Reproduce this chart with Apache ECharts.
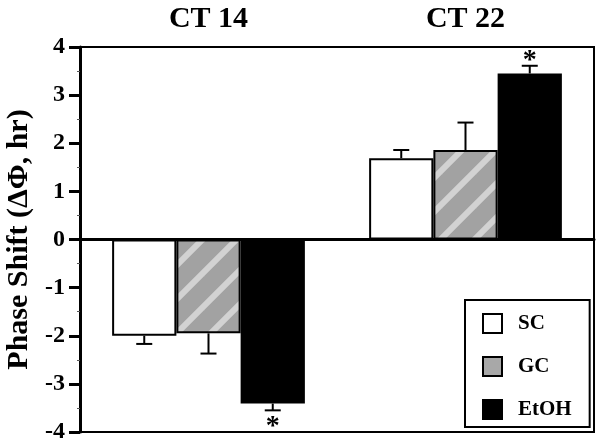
<!DOCTYPE html>
<html>
<head>
<meta charset="utf-8">
<script src="https://cdn.jsdelivr.net/npm/echarts@6/dist/echarts.min.js"></script>
<style>
  html, body { margin: 0; padding: 0; background: #fff; }
  #chart { width: 600px; height: 446px; }
</style>
</head>
<body>
<div id="chart"></div>
<script>
// data
const categories = ['CT 14', 'CT 22']
const groupNames = ['SC', 'GC', 'EtOH']
const scValues = [-2.0, 1.69]
const gcValues = [-1.95, 1.86]
const etohValues = [-3.41, 3.45]
const scErrors = [0.17, 0.17]
const gcErrors = [0.42, 0.57]
const etohErrors = [0.14, 0.16]
const etohSignificant = [1, 1]

const serif = '"Liberation Serif", "Times New Roman", serif'

// gray bar with light diagonal stripes (GC)
const makePattern = () => {
  const c = document.createElement('canvas')
  c.width = 34
  c.height = 34
  const ctx = c.getContext('2d')
  ctx.fillStyle = '#a2a2a2'
  ctx.fillRect(0, 0, 34, 34)
  ctx.strokeStyle = '#d2d2d2'
  ctx.lineWidth = 6
  ctx.lineCap = 'butt'
  for (let k = -1; k <= 1; k++) {
    ctx.beginPath()
    ctx.moveTo(k * 34 - 10, 44)
    ctx.lineTo(k * 34 + 44, -10)
    ctx.stroke()
  }
  return c
}

const errRows = []
const valueSets = [scValues, gcValues, etohValues]
const errSets = [scErrors, gcErrors, etohErrors]
categories.forEach((c, i) => {
  valueSets.forEach((vals, g) => {
    errRows.push([i, vals[i], errSets[g][i], g, g === 2 ? etohSignificant[i] : 0])
  })
})

const chart = echarts.init(document.getElementById('chart'))

const barBase = {
  type: 'bar',
  xAxisIndex: 0,
  barWidth: '25%',
  barGap: '0%',
  silent: true
}

const option = {
  animation: false,
  grid: {
    left: 80,
    right: 6,
    top: 47,
    bottom: 14,
    outerBoundsMode: 'none',
    show: true,
    borderColor: '#000',
    borderWidth: 2
  },
  legend: {
    orient: 'vertical',
    left: 465,
    top: 300,
    padding: [13, 18, 7, 17],
    backgroundColor: '#fff',
    borderColor: '#000',
    borderWidth: 2,
    itemWidth: 19,
    itemHeight: 19,
    itemGap: 22,
    icon: 'rect',
    textStyle: { fontFamily: serif, fontWeight: 'bold', fontSize: 21, color: '#000', padding: [0, 0, 0, 11] },
    data: [
      { name: 'SC' },
      { name: 'GC', itemStyle: { color: '#a8a8a8' } },
      { name: 'EtOH' }
    ]
  },
  xAxis: [
    {
      type: 'category',
      data: categories,
      axisLine: { onZero: true, lineStyle: { color: '#000', width: 3 } },
      axisTick: { show: false },
      axisLabel: { show: false }
    },
    {
      type: 'category',
      data: categories,
      position: 'top',
      axisLine: { lineStyle: { color: '#000', width: 2 } },
      axisTick: { show: false },
      axisLabel: { margin: 13, fontFamily: serif, fontWeight: 'bold', fontSize: 30, color: '#000' }
    }
  ],
  yAxis: {
    type: 'value',
    min: -4,
    max: 4,
    interval: 1,
    name: 'Phase Shift (ΔΦ, hr)',
    nameLocation: 'middle',
    nameGap: 45,
    nameTextStyle: { fontFamily: serif, fontWeight: 'bold', fontSize: 30, color: '#000' },
    axisLine: { show: true, lineStyle: { color: '#000', width: 3 } },
    axisTick: { show: true, length: 11, lineStyle: { color: '#000', width: 3 } },
    minorTick: { show: true, splitNumber: 2, length: 3, lineStyle: { color: '#555', width: 1 } },
    splitLine: { show: false },
    axisLabel: { margin: 15, fontFamily: serif, fontWeight: 'bold', fontSize: 24, color: '#000' }
  },
  series: [
    {
      ...barBase,
      name: 'SC',
      data: scValues,
      itemStyle: { color: '#fff', borderColor: '#000', borderWidth: 2 }
    },
    {
      ...barBase,
      name: 'GC',
      data: gcValues,
      itemStyle: { color: { image: makePattern(), repeat: 'repeat' }, borderColor: '#000', borderWidth: 2 }
    },
    {
      ...barBase,
      name: 'EtOH',
      data: etohValues,
      itemStyle: { color: '#000', borderColor: '#000', borderWidth: 2 }
    },
    {
      type: 'custom',
      name: 'err',
      xAxisIndex: 0,
      silent: true,
      z: 5,
      data: errRows,
      encode: { x: 0, y: 1 },
      renderItem: (params, api) => {
        const cat = api.value(0)
        const val = api.value(1)
        const err = api.value(2)
        const g = api.value(3)
        const sig = api.value(4)
        const band = api.size([1, 0])[0]
        const dir = val >= 0 ? 1 : -1
        const p0 = api.coord([cat, val])
        const x = p0[0] + (g - 1) * band * 0.25
        const yEnd = api.coord([cat, val + dir * err])[1]
        const style = { stroke: '#000', lineWidth: 2 }
        const children = [
          { type: 'line', shape: { x1: x, y1: p0[1], x2: x, y2: yEnd }, style },
          { type: 'line', shape: { x1: x - 8, y1: yEnd, x2: x + 8, y2: yEnd }, style }
        ]
        if (sig) {
          children.push({
            type: 'text',
            style: {
              text: '*',
              x: x,
              y: dir > 0 ? yEnd - 5 : yEnd + 16,
              align: 'center',
              verticalAlign: 'middle',
              fontFamily: serif,
              fontWeight: 'bold',
              fontSize: 28,
              fill: '#000'
            }
          })
        }
        return { type: 'group', children }
      }
    }
  ]
}

chart.setOption(option)
</script>
</body>
</html>
